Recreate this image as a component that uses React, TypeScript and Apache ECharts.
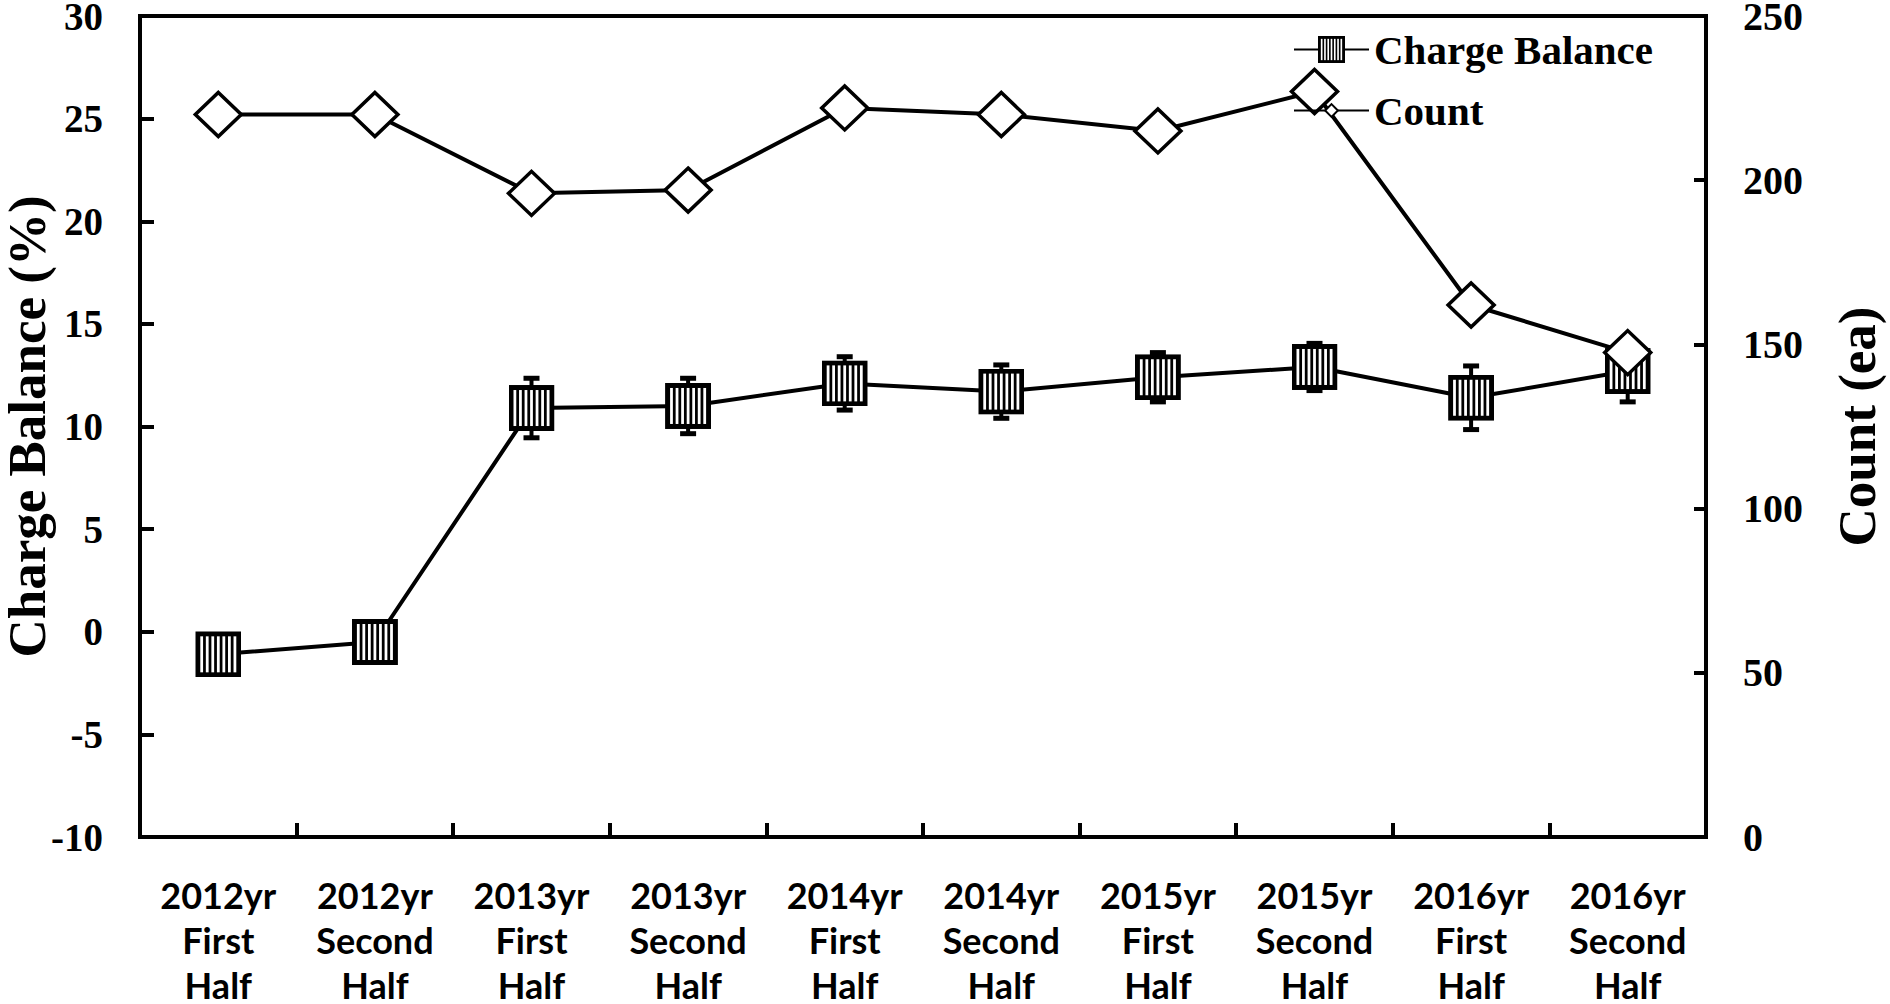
import React, { useEffect, useRef } from "react";
import * as echarts from "echarts";

// ---- Data ----
const categories = [
  "2012yr\nFirst\nHalf",
  "2012yr\nSecond\nHalf",
  "2013yr\nFirst\nHalf",
  "2013yr\nSecond\nHalf",
  "2014yr\nFirst\nHalf",
  "2014yr\nSecond\nHalf",
  "2015yr\nFirst\nHalf",
  "2015yr\nSecond\nHalf",
  "2016yr\nFirst\nHalf",
  "2016yr\nSecond\nHalf",
];
const chargeBalance = [-1.1, -0.5, 10.9, 11.0, 12.1, 11.7, 12.4, 12.9, 11.4, 12.7];
const chargeBalanceError = [0.8, 0.8, 1.45, 1.35, 1.3, 1.3, 1.2, 1.15, 1.55, 1.5];
const count = [220, 220, 196, 197, 222, 220, 215, 227, 162, 147.5];

const leftAxis = { min: -10, max: 30, interval: 5 };
const rightAxis = { min: 0, max: 250, interval: 50 };

const seriesNames = { cb: "Charge Balance", count: "Count" };

// striped square marker (black frame with white vertical stripes)
function stripedSquare(): string {
  const size = 46;
  const border = 5;
  const inner = size - 2 * border;
  const n = 13;
  const w = inner / n;
  let rects = `<rect x="0" y="0" width="${size}" height="${size}" fill="#000"/>`;
  for (let i = 0; i < n; i += 2) {
    rects += `<rect x="${(border + i * w).toFixed(2)}" y="${border}" width="${w.toFixed(2)}" height="${inner}" fill="#fff"/>`;
  }
  const svg = `<svg xmlns="http://www.w3.org/2000/svg" width="${size}" height="${size}" viewBox="0 0 ${size} ${size}">${rects}</svg>`;
  return "image://data:image/svg+xml;base64," + btoa(svg);
}

export default function App() {
  const ref = useRef<HTMLDivElement>(null);

  useEffect(() => {
    if (!ref.current) return;
    const chart = echarts.init(ref.current, undefined, { renderer: "svg" });
    const serif = "'Liberation Serif', 'Times New Roman', serif";
    const sans = "Lato, 'Liberation Sans', sans-serif";
    const cbSymbol = stripedSquare();

    const errData = chargeBalance.map((v, i) => [i, v - chargeBalanceError[i], v + chargeBalanceError[i]]);

    chart.setOption({
      animation: false,
      backgroundColor: "#fff",
      grid: {
        left: 140,
        right: 184,
        top: 16,
        bottom: 167,
        containLabel: false,
        outerBoundsMode: "none",
        show: true,
        borderColor: "#000",
        borderWidth: 4,
        backgroundColor: "transparent",
      },
      legend: [
        {
          data: [seriesNames.cb],
          left: 1293,
          top: 29,
          padding: 0,
          itemWidth: 75,
          itemHeight: 34,
          textStyle: { fontFamily: serif, fontWeight: "bold", fontSize: 41, color: "#000" },
        },
        {
          data: [seriesNames.count],
          left: 1293,
          top: 90,
          padding: 0,
          itemWidth: 75,
          itemHeight: 16,
          textStyle: { fontFamily: serif, fontWeight: "bold", fontSize: 41, color: "#000" },
        },
      ],
      xAxis: {
        type: "category",
        data: categories,
        boundaryGap: true,
        axisLine: { onZero: false, lineStyle: { color: "#000", width: 4 } },
        axisTick: { show: true, inside: true, length: 14, lineStyle: { color: "#000", width: 4 } },
        axisLabel: {
          margin: 35,
          fontFamily: sans,
          fontWeight: "bold",
          fontSize: 36,
          lineHeight: 45,
          color: "#000",
          interval: 0,
        },
        splitLine: { show: false },
      },
      yAxis: [
        {
          type: "value",
          min: leftAxis.min,
          max: leftAxis.max,
          interval: leftAxis.interval,
          name: "Charge Balance (%)",
          nameLocation: "middle",
          nameRotate: 90,
          nameGap: 87,
          nameMoveOverlap: false,
          nameTextStyle: { fontFamily: serif, fontWeight: "bold", fontSize: 53, color: "#000" },
          axisLine: { show: true, lineStyle: { color: "#000", width: 4 } },
          axisTick: { show: true, inside: true, length: 14, lineStyle: { color: "#000", width: 4 } },
          axisLabel: { margin: 37, fontFamily: serif, fontWeight: "bold", fontSize: 39, color: "#000" },
          splitLine: { show: false },
        },
        {
          type: "value",
          position: "right",
          min: rightAxis.min,
          max: rightAxis.max,
          interval: rightAxis.interval,
          name: "Count (ea)",
          nameLocation: "middle",
          nameRotate: 90,
          nameGap: 124,
          nameMoveOverlap: false,
          nameTextStyle: { fontFamily: serif, fontWeight: "bold", fontSize: 53, color: "#000" },
          axisLine: { show: true, lineStyle: { color: "#000", width: 4 } },
          axisTick: { show: true, inside: true, length: 12, lineStyle: { color: "#000", width: 4 } },
          axisLabel: { margin: 37, fontFamily: serif, fontWeight: "bold", fontSize: 40, color: "#000" },
          splitLine: { show: false },
        },
      ],
      series: [
        {
          type: "custom",
          name: "CB error",
          xAxisIndex: 0,
          yAxisIndex: 0,
          z: 1,
          silent: true,
          encode: { x: 0, y: [1, 2] },
          data: errData,
          renderItem: (params: any, api: any) => {
            const x = api.value(0);
            const lo = api.coord([x, api.value(1)]);
            const hi = api.coord([x, api.value(2)]);
            const cap = 8;
            const st = { stroke: "#000", lineWidth: 4 };
            return {
              type: "group",
              children: [
                { type: "line", shape: { x1: lo[0], y1: lo[1], x2: hi[0], y2: hi[1] }, style: st },
                { type: "line", shape: { x1: hi[0] - cap, y1: hi[1], x2: hi[0] + cap, y2: hi[1] }, style: { stroke: "#000", lineWidth: 5 } },
                { type: "line", shape: { x1: lo[0] - cap, y1: lo[1], x2: lo[0] + cap, y2: lo[1] }, style: { stroke: "#000", lineWidth: 5 } },
              ],
            };
          },
        },
        {
          type: "line",
          name: seriesNames.cb,
          yAxisIndex: 0,
          z: 2,
          data: chargeBalance,
          symbol: cbSymbol,
          symbolSize: 46,
          showAllSymbol: true,
          lineStyle: { color: "#000", width: 4 },
          itemStyle: { color: "#000" },
        },
        {
          type: "line",
          name: seriesNames.count,
          yAxisIndex: 1,
          z: 3,
          data: count,
          symbol: "diamond",
          symbolSize: [46, 44],
          showAllSymbol: true,
          lineStyle: { color: "#000", width: 4 },
          itemStyle: { color: "#fff", borderColor: "#000", borderWidth: 3.5 },
        },
      ],
    });

    return () => chart.dispose();
  }, []);

  return (
    <div
      ref={ref}
      style={{ position: "absolute", left: 0, top: 0, width: 1890, height: 1004, background: "#fff" }}
    />
  );
}
